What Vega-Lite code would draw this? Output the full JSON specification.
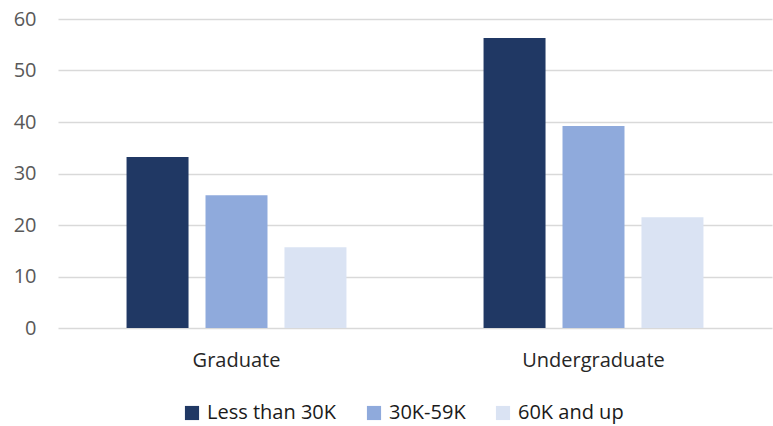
{
  "$schema": "https://vega.github.io/schema/vega-lite/v6.json",
  "width": 714,
  "height": 309,
  "autosize": {"type": "none"},
  "padding": {"left": 58, "top": 19, "right": 1, "bottom": 98},
  "background": "white",
  "data": {
    "values": [
      {"level": "Graduate", "income": "Less than 30K", "value": 33.2},
      {"level": "Graduate", "income": "30K-59K", "value": 25.8},
      {"level": "Graduate", "income": "60K and up", "value": 15.7},
      {"level": "Undergraduate", "income": "Less than 30K", "value": 56.3},
      {"level": "Undergraduate", "income": "30K-59K", "value": 39.2},
      {"level": "Undergraduate", "income": "60K and up", "value": 21.5}
    ]
  },
  "mark": {"type": "bar"},
  "encoding": {
    "x": {
      "field": "level",
      "type": "nominal",
      "scale": {"paddingInner": 0.384, "paddingOuter": 0.192},
      "axis": {
        "title": null,
        "labelAngle": 0,
        "domain": false,
        "ticks": false,
        "tickSize": 0,
        "labelPadding": 22,
        "labelFont": "Open Sans",
        "labelFontSize": 20,
        "labelColor": "#262626"
      }
    },
    "xOffset": {
      "field": "income",
      "type": "nominal",
      "sort": ["Less than 30K", "30K-59K", "60K and up"],
      "scale": {"paddingInner": 0.215, "paddingOuter": 0}
    },
    "y": {
      "field": "value",
      "type": "quantitative",
      "scale": {"domain": [0, 60], "nice": false},
      "axis": {
        "title": null,
        "values": [0, 10, 20, 30, 40, 50, 60],
        "domain": false,
        "ticks": false,
        "tickSize": 0,
        "labelPadding": 22,
        "labelFont": "Open Sans",
        "labelFontSize": 20,
        "labelColor": "#595959",
        "gridColor": "#d9d9d9",
        "gridWidth": 1.5
      }
    },
    "color": {
      "field": "income",
      "type": "nominal",
      "sort": ["Less than 30K", "30K-59K", "60K and up"],
      "scale": {
        "domain": ["Less than 30K", "30K-59K", "60K and up"],
        "range": ["#203864", "#8faadc", "#dae3f3"]
      },
      "legend": {
        "title": null,
        "orient": "none",
        "direction": "horizontal",
        "legendX": 124,
        "legendY": 384,
        "symbolType": "square",
        "symbolSize": 200,
        "symbolStrokeWidth": 0,
        "labelFont": "Open Sans",
        "labelFontSize": 20,
        "labelColor": "#1a1a1a",
        "labelOffset": 5,
        "columnPadding": 27
      }
    }
  },
  "config": {"view": {"stroke": null}}
}
